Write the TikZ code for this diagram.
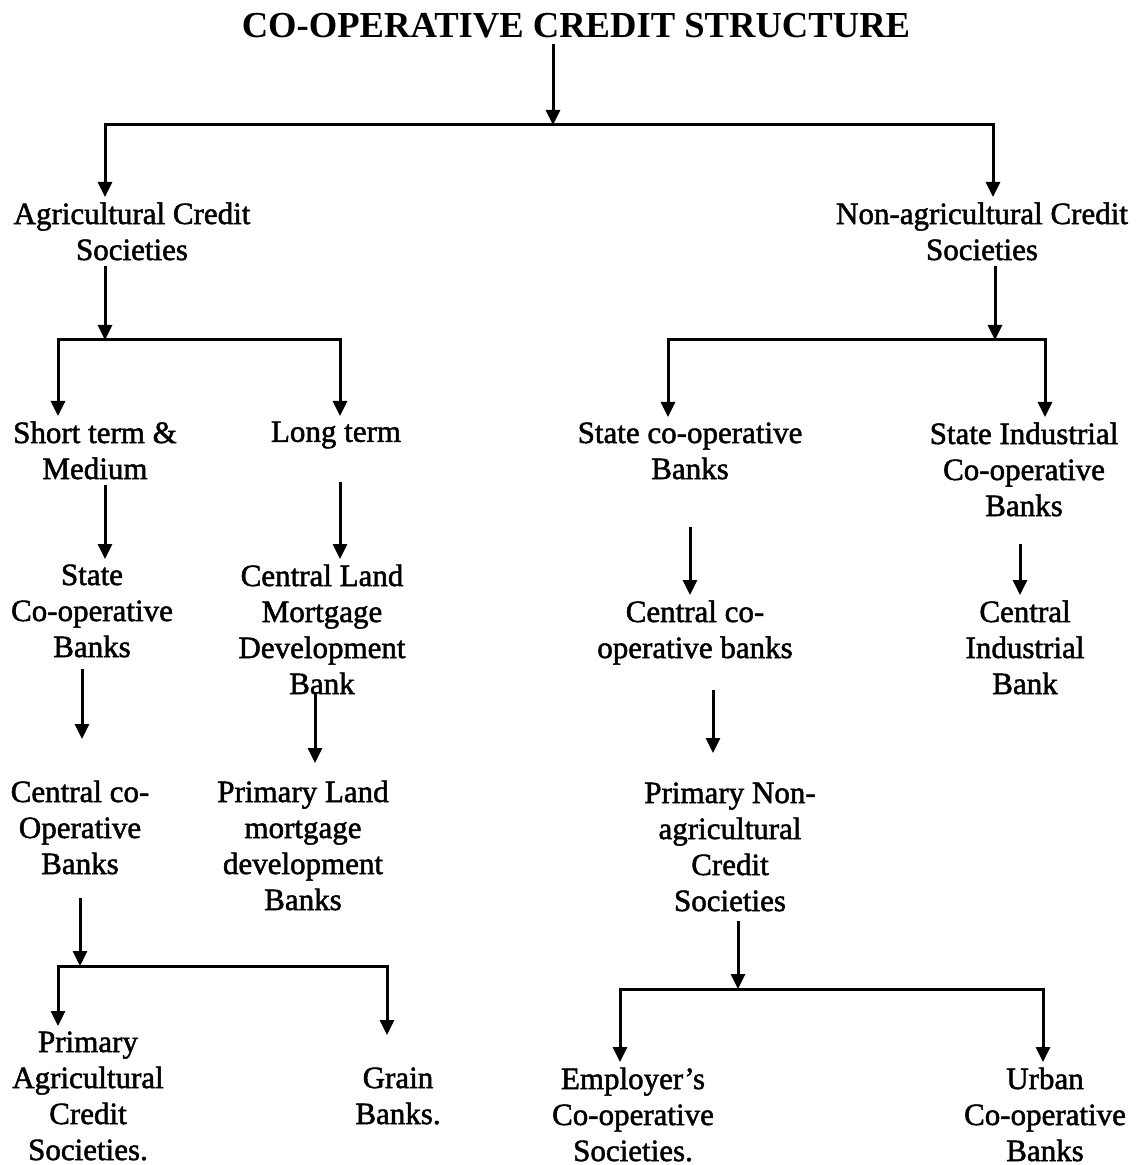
\documentclass[tikz,border=0pt]{standalone}
\usepackage{fontspec}
\setmainfont{Liberation Serif}
\newfontfamily\scanfont{Liberation Serif}[FakeBold=1.6]
\usetikzlibrary{arrows.meta}
\begin{document}
\begin{tikzpicture}[x=0.5pt, y=-0.5pt, line width=1.5pt, >={Triangle[length=7.5pt,width=7pt]},
		box/.style={anchor=north, align=center, inner sep=2pt, font=\scanfont\fontsize{15.5}{18}\selectfont}]
			\useasboundingbox (0,0) rectangle (1139,1165);
			\node[inner sep=2pt, font=\fontsize{18.3}{20}\selectfont\bfseries] (title) at (576,26) {CO-OPERATIVE CREDIT STRUCTURE};
			\node[box] (agri) at (132,197) {Agricultural Credit\\Societies};
			\node[box] (nonagri) at (982,197) {Non-agricultural Credit\\Societies};
			\node[box] (short) at (95,416) {Short term \&\\Medium};
			\node[box] (long) at (336,416) {Long term};
			\node[box] (scb) at (690,417) {State co-operative\\Banks};
			\node[box] (sicb) at (1024,417) {State Industrial\\Co-operative\\Banks};
			\node[box] (state) at (92,559) {State\\Co-operative\\Banks};
			\node[box] (cland) at (322,559) {Central Land\\Mortgage\\Development\\Bank};
			\node[box] (ccb) at (695,595) {Central co-\\operative banks};
			\node[box] (cib) at (1025,595) {Central\\Industrial\\Bank};
			\node[box] (ccob) at (80,775) {Central co-\\Operative\\Banks};
			\node[box] (plmdb) at (303,775) {Primary Land\\mortgage\\development\\Banks};
			\node[box] (pnacs) at (730,777) {Primary Non-\\agricultural\\Credit\\Societies};
			\node[box] (pacs) at (88,1026) {Primary\\Agricultural\\Credit\\Societies.};
			\node[box] (grain) at (398,1062) {Grain\\Banks.};
			\node[box] (employer) at (633,1062) {Employer’s\\Co-operative\\Societies.};
			\node[box] (urban) at (1045,1062) {Urban\\Co-operative\\Banks};
			\coordinate (j0) at (553,125); \coordinate (b0l) at (105,125); \coordinate (b0r) at (993,125);
			\coordinate (j1) at (105,340); \coordinate (b1l) at (58,340); \coordinate (b1r) at (340,340);
			\coordinate (j2) at (995,340); \coordinate (b2l) at (668,340); \coordinate (b2r) at (1045,340);
			\coordinate (j3) at (80,966); \coordinate (b3l) at (58,966); \coordinate (b3r) at (387,966);
			\coordinate (j4) at (738,989); \coordinate (b4l) at (620,989); \coordinate (b4r) at (1043,989);
			\coordinate (c1) at (105,0); \coordinate (c2) at (340,0); \coordinate (c3) at (690,0);
			\coordinate (c4) at (1020,0); \coordinate (c5) at (82,0); \coordinate (c6) at (315,0);
			\coordinate (c7) at (713,0);
			\draw[->] (title.south -| j0) -- (j0);
			\draw[<->] (b0l |- agri.north) -- (b0l) -- (b0r) -- (b0r |- nonagri.north);
			\draw[->] (agri.south -| j1) -- (j1);
			\draw[<->] (b1l |- short.north) -- (b1l) -- (b1r) -- (b1r |- long.north);
			\draw[->] (nonagri.south -| j2) -- (j2);
			\draw[<->] (b2l |- scb.north) -- (b2l) -- (b2r) -- (b2r |- sicb.north);
			\draw[->] (short.south -| c1) -- (c1 |- state.north);
			\draw[->, shorten <=14pt] (long.south -| c2) -- (c2 |- cland.north);
			\draw[->, shorten <=21pt] (scb.south -| c3) -- (c3 |- ccb.north);
			\draw[->, shorten <=11pt] (sicb.south -| c4) -- (c4 |- cib.north);
			\draw[->, shorten <=3pt, shorten >=18pt] (state.south -| c5) -- (c5 |- ccob.north);
			\draw[->, shorten <=-4pt, shorten >=6pt] (cland.south -| c6) -- (c6 |- plmdb.north);
			\draw[->, shorten <=10pt, shorten >=12pt] (ccb.south -| c7) -- (c7 |- pnacs.north);
			\draw[->, shorten <=9pt] (ccob.south -| j3) -- (j3);
			\draw[<->, shorten >=13.5pt] (b3l |- pacs.north) -- (b3l) -- (b3r) -- (b3r |- grain.north);
			\draw[->, shorten <=2pt] (pnacs.south -| j4) -- (j4);
			\draw[<->] (b4l |- employer.north) -- (b4l) -- (b4r) -- (b4r |- urban.north);
		\end{tikzpicture}
\end{document}
